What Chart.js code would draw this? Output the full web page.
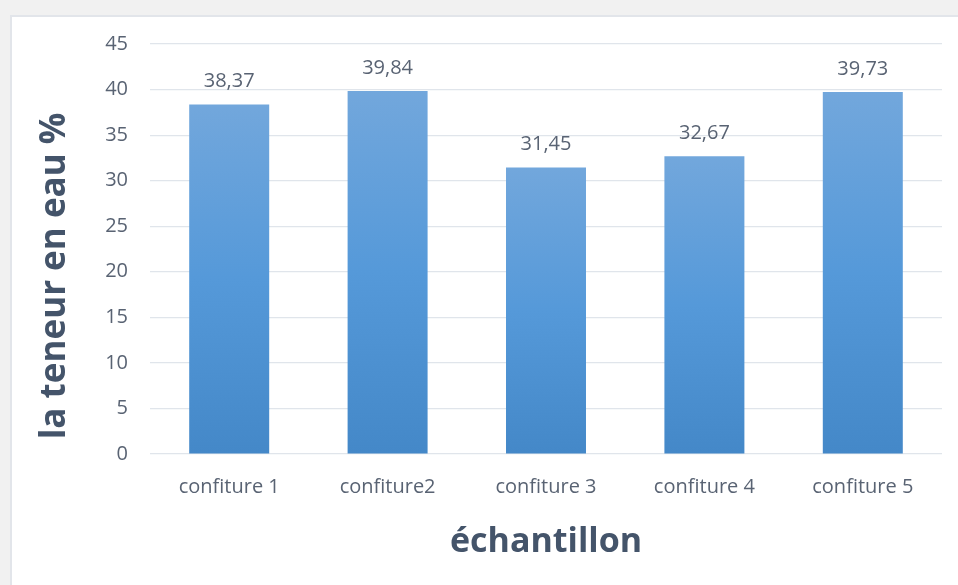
<!DOCTYPE html>
<html>
<head>
<meta charset="utf-8">
<script src="https://cdn.jsdelivr.net/npm/chart.js@4/dist/chart.umd.min.js"></script>
<style>
  html, body { margin: 0; padding: 0; background: #f1f1f1; }
  #frame {
    position: absolute; left: 10px; top: 15px; width: 948px; height: 570px;
    background: #fff; border-left: 2px solid #e2e5ea; border-top: 2px solid #e2e5ea;
    box-sizing: border-box;
  }
  #wrap { position: absolute; left: -2px; top: -2px; width: 948px; height: 570px; }
</style>
</head>
<body>
<div id="frame"><div id="wrap"><canvas id="eauChart"></canvas></div></div>
<script>
const categories = ['confiture 1', 'confiture2', 'confiture 3', 'confiture 4', 'confiture 5'];
const teneurEau = [38.37, 39.84, 31.45, 32.67, 39.73];
const yTicks = [0, 5, 10, 15, 20, 25, 30, 35, 40, 45];
const yTitle = 'la teneur en eau %';
const xTitle = 'échantillon';

const fontFam = '"Open Sans", sans-serif';

// per-bar vertical gradient
function barFill(ctx) {
  const chart = ctx.chart;
  const y = chart.scales.y;
  if (!y || ctx.raw === undefined) return '#5b9bd5';
  const top = y.getPixelForValue(ctx.raw);
  const bot = y.getPixelForValue(0);
  if (!isFinite(top) || !isFinite(bot) || top === bot) return '#5b9bd5';
  const g = chart.ctx.createLinearGradient(0, top, 0, bot);
  g.addColorStop(0, '#72a7dc');
  g.addColorStop(0.5, '#5599d9');
  g.addColorStop(1, '#4488c8');
  return g;
}

const valueLabels = {
  id: 'valueLabels',
  afterDatasetsDraw(chart) {
    const c = chart.ctx;
    const meta = chart.getDatasetMeta(0);
    c.save();
    c.font = '20px ' + fontFam;
    c.fillStyle = '#596373';
    c.textAlign = 'center';
    c.textBaseline = 'alphabetic';
    meta.data.forEach((bar, i) => {
      c.fillText(teneurEau[i].toFixed(2).replace('.', ','), bar.x, bar.y - 17);
    });
    c.restore();
  }
};

// y title sits a bit lower than the plot centre, like the original
const yTitlePlugin = {
  id: 'yTitlePlugin',
  afterDraw(chart) {
    const c = chart.ctx;
    const area = chart.chartArea;
    c.save();
    c.translate(45, (area.top + area.bottom) / 2 + 27);
    c.rotate(-Math.PI / 2);
    c.font = 'bold 35px ' + fontFam;
    c.fillStyle = '#44546a';
    c.textAlign = 'center';
    c.textBaseline = 'middle';
    c.fillText(yTitle, 0, 0);
    c.restore();
  }
};

new Chart(document.getElementById('eauChart'), {
  type: 'bar',
  data: {
    labels: categories,
    datasets: [{
      data: teneurEau,
      backgroundColor: barFill,
      borderWidth: 0,
      categoryPercentage: 1,
      barPercentage: 0.505
    }]
  },
  options: {
    responsive: true,
    maintainAspectRatio: false,
    animation: false,
    layout: { padding: { top: 29, right: 16, left: 0, bottom: 0 } },
    plugins: { legend: { display: false }, tooltip: { enabled: false } },
    scales: {
      x: {
        grid: { display: false, drawTicks: false },
        border: { display: false },
        ticks: { color: '#596373', font: { family: fontFam, size: 20 }, padding: 21 },
        title: {
          display: true, text: xTitle, color: '#44546a',
          font: { family: fontFam, size: 34, weight: 'bold' },
          padding: { top: 0, bottom: 22 }
        },
        afterFit(s) { s.height = 131; s.paddingTop = 0; s.paddingBottom = 0; }
      },
      y: {
        min: 0, max: 45,
        afterBuildTicks(s) { s.ticks = yTicks.map(v => ({ value: v })); },
        grid: { color: '#e0e5eb', drawTicks: false, lineWidth: 1.2 },
        border: { display: false },
        ticks: { color: '#596373', font: { family: fontFam, size: 20 }, padding: 22 },
        afterFit(s) { s.width = 140; s.paddingTop = 0; s.paddingBottom = 0; }
      }
    }
  },
  plugins: [valueLabels, yTitlePlugin]
});
</script>
</body>
</html>
